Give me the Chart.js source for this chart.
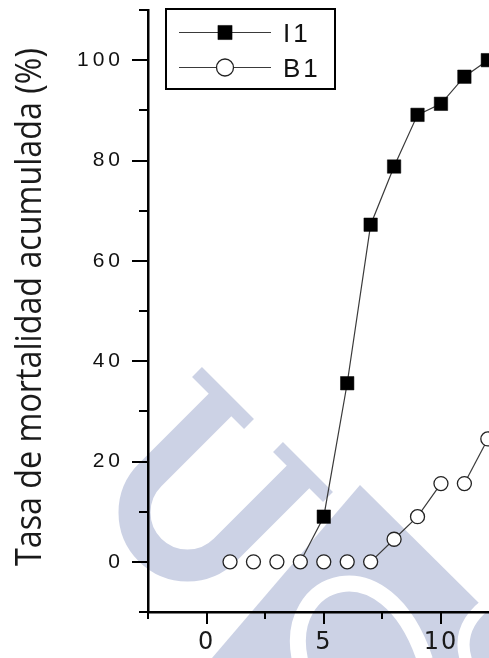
<!DOCTYPE html>
<html>
<head>
<meta charset="utf-8">
<script src="https://cdn.jsdelivr.net/npm/chart.js@4.4.1/dist/chart.umd.min.js"></script>
<style>
  html, body { margin: 0; padding: 0; background: #fff; }
  canvas { display: block; }
</style>
</head>
<body>
<canvas id="mortalityChart" width="489" height="658"></canvas>
<script>
// Data
const days = [1, 2, 3, 4, 5, 6, 7, 8, 9, 10, 11, 12];
const i1Values = [0, 0, 0, 0, 9, 35.6, 67.2, 78.8, 89.1, 91.3, 96.7, 100];
const b1Values = [0, 0, 0, 0, 0, 0, 0, 4.5, 9, 15.6, 15.6, 24.5];
const seriesLabels = ['I1', 'B1'];
const yTickValues = [0, 20, 40, 60, 80, 100];
const yMinorValues = [-10, 10, 30, 50, 70, 90, 110];
const xTickValues = [0, 5, 10];
const xMinorValues = [-2.5, 2.5, 7.5];
const yTitle = 'Tasa de mortalidad acumulada (%)';

const lineColor = '#3a3a3a';
const wmColor = 'rgb(204, 210, 229)';

// hide horizontal segments (Origin style "gap to symbol" leaves nothing there)
const segmentStyle = {
    borderColor: ctx => ctx.p0.parsed.y === ctx.p1.parsed.y ? 'rgba(0,0,0,0)' : lineColor
};

/**
 * Faint university watermark behind the plot
 */
const watermark = {
    id: 'watermark',
    beforeDraw(chart) {
        const ctx = chart.ctx;
        ctx.save();
        ctx.fillStyle = '#fff';
        ctx.fillRect(0, 0, chart.width, chart.height);
        ctx.strokeStyle = wmColor;
        ctx.fillStyle = wmColor;

        // the "U"
        ctx.lineWidth = 32;
        ctx.beginPath();
        ctx.moveTo(225, 400);
        ctx.arc(187.5, 512.5, 53, 1.25 * Math.PI, 0.25 * Math.PI, true);
        ctx.lineTo(300, 475);
        ctx.stroke();
        ctx.lineWidth = 14;
        ctx.beginPath();
        ctx.moveTo(197, 372); ctx.lineTo(249, 424);
        ctx.moveTo(278, 447); ctx.lineTo(328, 497);
        ctx.stroke();

        // the triangle with the "S"
        ctx.beginPath();
        ctx.moveTo(360, 485);
        ctx.lineTo(489, 613);
        ctx.lineTo(489, 658);
        ctx.lineTo(212, 658);
        ctx.closePath();
        ctx.fill();
        ctx.strokeStyle = '#fff';
        ctx.lineWidth = 16;
        ctx.beginPath();
        ctx.moveTo(300, 660);
        ctx.bezierCurveTo(282, 578, 385, 540, 425, 660);
        ctx.stroke();
        ctx.lineWidth = 12;
        ctx.beginPath();
        ctx.moveTo(492, 600);
        ctx.quadraticCurveTo(455, 625, 466, 660);
        ctx.stroke();
        ctx.restore();
    }
};

/**
 * Major / minor tick marks pointing outwards
 */
const axisTicks = {
    id: 'axisTicks',
    afterDraw(chart) {
        const { ctx, chartArea: a, scales: { x, y } } = chart;
        ctx.save();
        ctx.strokeStyle = '#000';
        ctx.lineWidth = 2;
        ctx.beginPath();
        yTickValues.forEach(v => {
            const py = Math.round(y.getPixelForValue(v));
            ctx.moveTo(a.left - 16, py); ctx.lineTo(a.left, py);
        });
        yMinorValues.forEach(v => {
            const py = Math.round(y.getPixelForValue(v));
            ctx.moveTo(a.left - 9, py); ctx.lineTo(a.left, py);
        });
        xTickValues.forEach(v => {
            const px = Math.round(x.getPixelForValue(v));
            ctx.moveTo(px, a.bottom); ctx.lineTo(px, a.bottom + 12);
        });
        xMinorValues.forEach(v => {
            const px = Math.round(x.getPixelForValue(v));
            ctx.moveTo(px, a.bottom); ctx.lineTo(px, a.bottom + 7);
        });
        ctx.stroke();
        ctx.restore();
    }
};

/**
 * Rotated y title, squeezed to the width of the original
 */
const yAxisTitle = {
    id: 'yAxisTitle',
    afterDraw(chart) {
        const ctx = chart.ctx;
        ctx.save();
        ctx.translate(41, 307);
        ctx.rotate(-Math.PI / 2);
        ctx.font = '36px "Open Sans", sans-serif';
        ctx.fillStyle = '#1a1a1a';
        ctx.textAlign = 'center';
        ctx.textBaseline = 'alphabetic';
        ctx.fillText(yTitle, 0, 0, 518);
        ctx.restore();
    }
};

/**
 * Boxed legend inside the plot, Origin style
 */
const boxLegend = {
    id: 'boxLegend',
    afterDraw(chart) {
        const ctx = chart.ctx;
        ctx.save();
        ctx.fillStyle = '#fff';
        ctx.fillRect(166, 9, 169, 80);
        ctx.strokeStyle = '#000';
        ctx.lineWidth = 2;
        ctx.strokeRect(166, 9, 169, 80);
        chart.data.datasets.forEach((ds, i) => {
            const ly = 32 + i * 35;
            ctx.strokeStyle = lineColor;
            ctx.lineWidth = 1.2;
            ctx.beginPath();
            ctx.moveTo(179, ly + 0.5);
            ctx.lineTo(271, ly + 0.5);
            ctx.stroke();
            ctx.fillStyle = ds.pointBackgroundColor;
            ctx.strokeStyle = ds.pointBorderColor;
            ctx.lineWidth = ds.pointBorderWidth;
            Chart.helpers.drawPoint(ctx, {
                pointStyle: ds.pointStyle,
                radius: ds.pointStyle === 'rect' ? 10 : 8.5,
                borderWidth: ds.pointBorderWidth,
                rotation: 0
            }, 225, ly + 0.5);
            ctx.fillStyle = '#111';
            ctx.font = '26px "Liberation Sans", Arial, sans-serif';
            ctx.letterSpacing = '3px';
            ctx.textBaseline = 'alphabetic';
            ctx.textAlign = 'left';
            ctx.fillText(ds.label, 283, ly + 10);
        });
        ctx.restore();
    }
};

/**
 * Wider spacing of the tick labels
 */
const spacedLabels = {
    id: 'spacedLabels',
    afterLayout(chart) {
        [['x', '2px'], ['y', '4px']].forEach(([id, sp]) => {
            const scale = chart.scales[id];
            if (!scale || scale._spaced) return;
            const orig = scale.drawLabels.bind(scale);
            scale.drawLabels = function(area) {
                this.ctx.save();
                this.ctx.letterSpacing = sp;
                orig(area);
                this.ctx.restore();
            };
            scale._spaced = true;
        });
    }
};

function fixBox(size) {
    return s => {
        if (s.isHorizontal()) s.height = size; else s.width = size;
        s.paddingTop = s.paddingBottom = s.paddingLeft = s.paddingRight = 0;
    };
}

function initMortalityChart(canvasId) {
    const ctx = document.getElementById(canvasId)?.getContext('2d');
    if (!ctx) return;

    new Chart(ctx, {
        type: 'line',
        data: {
            datasets: [
                {
                    label: seriesLabels[0],
                    data: days.map((d, i) => ({ x: d, y: i1Values[i] })),
                    borderColor: lineColor,
                    borderWidth: 1.2,
                    pointStyle: 'rect',
                    pointRadius: c => c.parsed && c.parsed.y === 0 ? 0 : 9.5,
                    pointBackgroundColor: '#000',
                    pointBorderColor: '#000',
                    pointBorderWidth: 0.5,
                    segment: segmentStyle,
                    tension: 0,
                    order: 1
                },
                {
                    label: seriesLabels[1],
                    data: days.map((d, i) => ({ x: d, y: b1Values[i] })),
                    borderColor: lineColor,
                    borderWidth: 1.2,
                    pointStyle: 'circle',
                    pointRadius: 7,
                    pointBackgroundColor: '#fff',
                    pointBorderColor: '#222',
                    pointBorderWidth: 1.3,
                    segment: segmentStyle,
                    tension: 0,
                    order: 0
                }
            ]
        },
        options: {
            responsive: false,
            animation: false,
            events: [],
            layout: {
                autoPadding: false,
                padding: { top: 10, right: 0, bottom: 0, left: 0 }
            },
            plugins: {
                legend: { display: false },
                tooltip: { enabled: false }
            },
            scales: {
                x: {
                    type: 'linear',
                    min: -2.5,
                    max: 12.05,
                    afterBuildTicks: s => { s.ticks = xTickValues.map(v => ({ value: v })); },
                    afterFit: fixBox(46),
                    grid: { display: false, drawTicks: false },
                    border: { display: true, color: '#000', width: 2.5 },
                    ticks: {
                        padding: 16,
                        color: '#1a1a1a',
                        font: { family: '"DejaVu Sans", sans-serif', size: 24 },
                        maxRotation: 0
                    }
                },
                y: {
                    type: 'linear',
                    min: -10,
                    max: 110,
                    afterBuildTicks: s => { s.ticks = yTickValues.map(v => ({ value: v })); },
                    afterFit: fixBox(148),
                    grid: { display: false, drawTicks: false },
                    border: { display: true, color: '#000', width: 2.5 },
                    ticks: {
                        padding: 24,
                        color: '#111',
                        font: { family: '"Liberation Sans", Arial, sans-serif', size: 21 }
                    }
                }
            }
        },
        plugins: [watermark, spacedLabels, axisTicks, yAxisTitle, boxLegend]
    });
}

initMortalityChart('mortalityChart');
</script>
</body>
</html>
